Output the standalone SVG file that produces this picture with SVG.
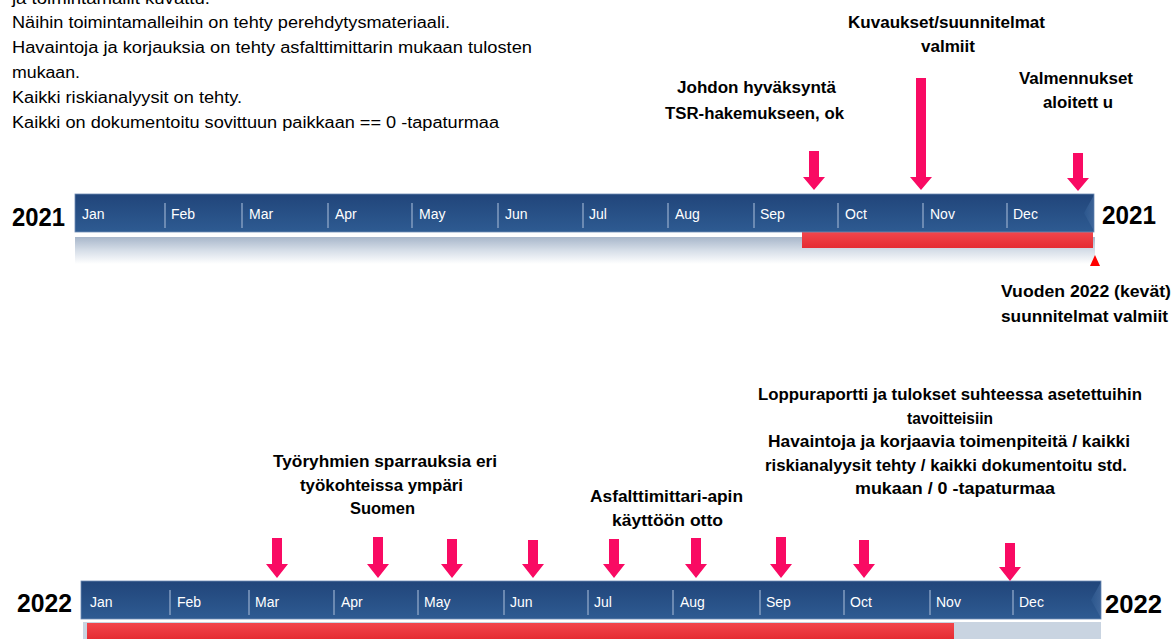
<svg xmlns="http://www.w3.org/2000/svg" width="1173" height="639" viewBox="0 0 1173 639">
<style>
.note{font-family:"Liberation Sans",Arial,sans-serif;font-size:16px;fill:#000}
.lbl{font-family:"Liberation Sans",Arial,sans-serif;font-size:16px;font-weight:bold;fill:#000}
.year{font-family:"Liberation Sans",Arial,sans-serif;font-size:25px;font-weight:bold;fill:#000}
.mon{font-family:"Liberation Sans",Arial,sans-serif;font-size:14px;fill:#fff}
.sep{stroke:#7d98bd;stroke-width:1.6}
.arrow{fill:#F90A63}
</style>
<defs>
<linearGradient id="barG" x1="0" y1="0" x2="0" y2="1">
<stop offset="0" stop-color="#21457a"/>
<stop offset="1" stop-color="#2e5b92"/>
</linearGradient>
<linearGradient id="refl" x1="0" y1="0" x2="0" y2="1">
<stop offset="0" stop-color="#a7b6ca"/>
<stop offset="0.5" stop-color="#d6dee8"/>
<stop offset="1" stop-color="#ffffff"/>
</linearGradient>
<linearGradient id="redG" x1="0" y1="0" x2="0" y2="1">
<stop offset="0" stop-color="#f2464c"/>
<stop offset="1" stop-color="#e52c33"/>
</linearGradient>
<linearGradient id="bevel" x1="0" y1="0" x2="1" y2="0">
<stop offset="0" stop-color="#2e5b92"/>
<stop offset="1" stop-color="#4d72a5"/>
</linearGradient>
</defs>

<g id="notes">
<text class="note" x="12" y="4" textLength="198" lengthAdjust="spacingAndGlyphs">ja toimintamallit kuvattu.</text>
<text class="note" x="12" y="27.5" textLength="438" lengthAdjust="spacingAndGlyphs">Näihin toimintamalleihin on tehty perehdytysmateriaali.</text>
<text class="note" x="12" y="52.5" textLength="520" lengthAdjust="spacingAndGlyphs">Havaintoja ja korjauksia on tehty asfalttimittarin mukaan tulosten</text>
<text class="note" x="12" y="77.5" textLength="68" lengthAdjust="spacingAndGlyphs">mukaan.</text>
<text class="note" x="12" y="102.5" textLength="230" lengthAdjust="spacingAndGlyphs">Kaikki riskianalyysit on tehty.</text>
<text class="note" x="12" y="127.5" textLength="487" lengthAdjust="spacingAndGlyphs">Kaikki on dokumentoitu sovittuun paikkaan == 0  -tapaturmaa</text>
</g>

<g id="timeline-2021">
<rect x="75" y="237" width="1020" height="27" fill="url(#refl)"/>
<rect x="802" y="232" width="291" height="16" fill="url(#redG)"/>
<rect x="75" y="194" width="1019" height="38" fill="url(#barG)" stroke="#6f8cb4" stroke-width="0.8"/>
<polygon points="1084,213 1094,195 1094,231" fill="url(#bevel)" opacity="0.6"/>
<g>
<line class="sep" x1="165" y1="203" x2="165" y2="228"/>
<line class="sep" x1="242" y1="203" x2="242" y2="228"/>
<line class="sep" x1="328" y1="203" x2="328" y2="228"/>
<line class="sep" x1="412" y1="203" x2="412" y2="228"/>
<line class="sep" x1="498" y1="203" x2="498" y2="228"/>
<line class="sep" x1="583" y1="203" x2="583" y2="228"/>
<line class="sep" x1="668" y1="203" x2="668" y2="228"/>
<line class="sep" x1="754" y1="203" x2="754" y2="228"/>
<line class="sep" x1="838" y1="203" x2="838" y2="228"/>
<line class="sep" x1="923" y1="203" x2="923" y2="228"/>
<line class="sep" x1="1007" y1="203" x2="1007" y2="228"/>
</g>
<text class="mon" x="82" y="219">Jan</text>
<text class="mon" x="171" y="219">Feb</text>
<text class="mon" x="249" y="219">Mar</text>
<text class="mon" x="335" y="219">Apr</text>
<text class="mon" x="419" y="219">May</text>
<text class="mon" x="505" y="219">Jun</text>
<text class="mon" x="589" y="219">Jul</text>
<text class="mon" x="675" y="219">Aug</text>
<text class="mon" x="760" y="219">Sep</text>
<text class="mon" x="845" y="219">Oct</text>
<text class="mon" x="930" y="219">Nov</text>
<text class="mon" x="1013" y="219">Dec</text>
<text class="year" x="12" y="226" textLength="53" lengthAdjust="spacingAndGlyphs">2021</text>
<text class="year" x="1102" y="224" textLength="54" lengthAdjust="spacingAndGlyphs">2021</text>
<polygon points="1090,266 1095,255 1100,266" fill="#ff0000"/>
</g>

<g id="timeline-2022">
<rect x="83" y="622" width="1018" height="17" fill="#c9d4e1"/>
<rect x="87" y="623" width="867" height="16" fill="url(#redG)"/>
<rect x="81" y="581" width="1020" height="38" fill="url(#barG)" stroke="#6f8cb4" stroke-width="0.8"/>
<polygon points="1091,600 1101,582 1101,618" fill="url(#bevel)" opacity="0.6"/>
<g>
<line class="sep" x1="170" y1="590" x2="170" y2="615"/>
<line class="sep" x1="249" y1="590" x2="249" y2="615"/>
<line class="sep" x1="334" y1="590" x2="334" y2="615"/>
<line class="sep" x1="418" y1="590" x2="418" y2="615"/>
<line class="sep" x1="504" y1="590" x2="504" y2="615"/>
<line class="sep" x1="588" y1="590" x2="588" y2="615"/>
<line class="sep" x1="673" y1="590" x2="673" y2="615"/>
<line class="sep" x1="760" y1="590" x2="760" y2="615"/>
<line class="sep" x1="844" y1="590" x2="844" y2="615"/>
<line class="sep" x1="930" y1="590" x2="930" y2="615"/>
<line class="sep" x1="1013" y1="590" x2="1013" y2="615"/>
</g>
<text class="mon" x="90" y="607">Jan</text>
<text class="mon" x="177" y="607">Feb</text>
<text class="mon" x="255" y="607">Mar</text>
<text class="mon" x="341" y="607">Apr</text>
<text class="mon" x="424" y="607">May</text>
<text class="mon" x="510" y="607">Jun</text>
<text class="mon" x="594" y="607">Jul</text>
<text class="mon" x="680" y="607">Aug</text>
<text class="mon" x="766" y="607">Sep</text>
<text class="mon" x="850" y="607">Oct</text>
<text class="mon" x="936" y="607">Nov</text>
<text class="mon" x="1019" y="607">Dec</text>
<text class="year" x="17" y="612" textLength="55" lengthAdjust="spacingAndGlyphs">2022</text>
<text class="year" x="1105" y="613" textLength="57" lengthAdjust="spacingAndGlyphs">2022</text>
</g>

<g id="label-johdon">
<text class="lbl" x="677" y="93" textLength="159" lengthAdjust="spacingAndGlyphs">Johdon  hyväksyntä</text>
<text class="lbl" x="665" y="119" textLength="179" lengthAdjust="spacingAndGlyphs">TSR-hakemukseen, ok</text>
</g>
<g id="label-kuvaukset">
<text class="lbl" x="848" y="28" textLength="197" lengthAdjust="spacingAndGlyphs">Kuvaukset/suunnitelmat</text>
<text class="lbl" x="921" y="52" textLength="54" lengthAdjust="spacingAndGlyphs">valmiit</text>
</g>
<g id="label-valmennukset">
<text class="lbl" x="1019" y="84" textLength="114" lengthAdjust="spacingAndGlyphs">Valmennukset</text>
<text class="lbl" x="1043" y="108" textLength="70" lengthAdjust="spacingAndGlyphs">aloitett u</text>
</g>
<g id="label-vuoden">
<text class="lbl" x="1001" y="297" textLength="170" lengthAdjust="spacingAndGlyphs">Vuoden  2022 (kevät)</text>
<text class="lbl" x="1001" y="322" textLength="167" lengthAdjust="spacingAndGlyphs">suunnitelmat  valmiit</text>
</g>
<g id="label-tyoryhmien">
<text class="lbl" x="273" y="467" textLength="224" lengthAdjust="spacingAndGlyphs">Työryhmien sparrauksia eri</text>
<text class="lbl" x="300" y="491" textLength="163" lengthAdjust="spacingAndGlyphs">työkohteissa ympäri</text>
<text class="lbl" x="350" y="514" textLength="65" lengthAdjust="spacingAndGlyphs">Suomen</text>
</g>
<g id="label-asfalttimittari">
<text class="lbl" x="590" y="502" textLength="153" lengthAdjust="spacingAndGlyphs">Asfalttimittari-apin</text>
<text class="lbl" x="612" y="526" textLength="111" lengthAdjust="spacingAndGlyphs">käyttöön otto</text>
</g>
<g id="label-loppuraportti">
<text class="lbl" x="758" y="400" textLength="384" lengthAdjust="spacingAndGlyphs">Loppuraportti ja tulokset suhteessa asetettuihin</text>
<text class="lbl" x="907" y="423.5" textLength="86" lengthAdjust="spacingAndGlyphs">tavoitteisiin</text>
<text class="lbl" x="768" y="447" textLength="362" lengthAdjust="spacingAndGlyphs">Havaintoja ja korjaavia toimenpiteitä / kaikki</text>
<text class="lbl" x="765" y="471" textLength="362" lengthAdjust="spacingAndGlyphs">riskianalyysit tehty / kaikki dokumentoitu std.</text>
<text class="lbl" x="855" y="494" textLength="200" lengthAdjust="spacingAndGlyphs">mukaan / 0  -tapaturmaa</text>
</g>

<g id="connectors">
<polygon class="arrow" points="809,151 819,151 819,177 825,177 814,190 803,177 809,177"/>
<polygon class="arrow" points="916,78 926,78 926,177 932,177 921,190 910,177 916,177"/>
<polygon class="arrow" points="1073,153 1083,153 1083,178 1089,178 1078,191 1067,178 1073,178"/>
<polygon class="arrow" points="272,538 282,538 282,564 288,564 277,578 266,564 272,564"/>
<polygon class="arrow" points="373,537 383,537 383,564 389,564 378,578 367,564 373,564"/>
<polygon class="arrow" points="447,539 457,539 457,564 463,564 452,578 441,564 447,564"/>
<polygon class="arrow" points="528,540 538,540 538,564 544,564 533,578 522,564 528,564"/>
<polygon class="arrow" points="609,539 619,539 619,564 625,564 614,578 603,564 609,564"/>
<polygon class="arrow" points="691,538 701,538 701,564 707,564 696,578 685,564 691,564"/>
<polygon class="arrow" points="776,537 786,537 786,564 792,564 781,578 770,564 776,564"/>
<polygon class="arrow" points="859,540 869,540 869,564 875,564 864,578 853,564 859,564"/>
<polygon class="arrow" points="1005,543 1015,543 1015,567 1021,567 1010,581 999,567 1005,567"/>
</g>
</svg>
